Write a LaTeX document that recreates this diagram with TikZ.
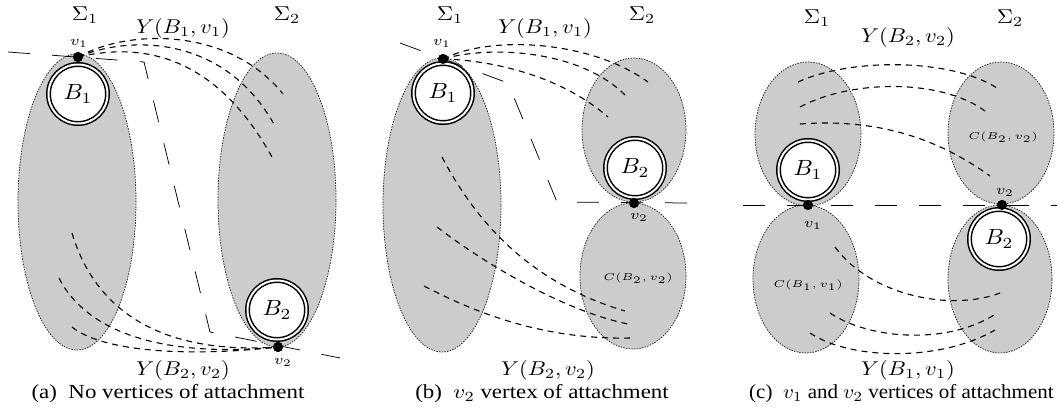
\documentclass[tikz,border=0pt]{standalone}
\usepackage{fontspec}
\newfontfamily\capfont{Liberation Serif}
\usetikzlibrary{shapes.geometric}
\newcommand\mtx[1]{\scalebox{2.25}[2.0]{$#1$}}
\newcommand\btx[1]{\scalebox{2.4}[2.2]{$#1$}}
\newcommand\vtx[1]{\scalebox{2.25}[2.0]{\scriptsize$#1$}}
\newcommand\ctx[1]{\scalebox{2.25}[2.0]{\tiny$#1$}}
\newcommand\captx[2][2.29]{\scalebox{#1}[2.0]{\capfont\fontsize{10}{12}\selectfont #2}}
\tikzset{
  region/.style={ellipse, draw=black!85, fill=gray!40, dash pattern=on 1.5pt off 1.2pt, line width=0.75pt, inner sep=0pt},
  blob/.style={circle, draw=black, double=white, double distance=2pt, line width=1.5pt, fill=white, minimum size=59pt, inner sep=0pt},
  attach/.style={circle, fill=black, inner sep=0pt, minimum size=10pt},
  ycurve/.style={dash pattern=on 6pt off 5pt, line width=1.1pt},
  sepline/.style={dash pattern=on 22pt off 22pt, line width=0.75pt},
  lbl/.style={inner sep=0pt}
}
\begin{document}
\begin{tikzpicture}[x=1pt,y=-1pt]
\useasboundingbox (0,0) rectangle (1057,418);
% ---------------- (a) ----------------
\node[region, minimum width=118pt, minimum height=296pt] (La) at (77,202) {};
\node[region, minimum width=118pt, minimum height=294pt] (Ra) at (277,200) {};
\node[attach] (v1a) at (78,57) {};
\node[attach] (v2a) at (278,347) {};
\coordinate (a1) at (283,94);
\coordinate (a2) at (275,126);
\coordinate (a3) at (272,157);
\coordinate (a4) at (72,233);
\coordinate (a5) at (59,278);
\coordinate (a6) at (72,327);
\draw[ycurve] (v1a.center) .. controls (130,28) and (230,28) .. (a1);
\draw[ycurve] (v1a.center) .. controls (130,35) and (225,35) .. (a2);
\draw[ycurve] (v1a.center) .. controls (130,45) and (210,45) .. (a3);
\draw[ycurve] (a4) .. controls (95,310) and (160,355) .. (v2a.center);
\draw[ycurve] (a5) .. controls (80,320) and (140,360) .. (v2a.center);
\draw[ycurve] (a6) .. controls (100,350) and (180,358) .. (v2a.center);
\coordinate (sa0) at (8,52);
\coordinate (sa1) at (144,62);
\coordinate (sa2) at (210,332);
\coordinate (sa3) at (340,358);
\draw[sepline] (sa0) -- (sa1) -- (sa2) -- (sa3);
\node[blob] (B1a) at (78,94) {\btx{B_1}};
\node[blob] (B2a) at (277,310) {\btx{B_2}};
\node[attach] at (v1a) {};
\node[attach] at (v2a) {};
\node[lbl] (s1a) at (85,15) {\mtx{\Sigma_1}};
\node[lbl] (s2a) at (287,15) {\mtx{\Sigma_2}};
\node[lbl] (ya1) at (183,28) {\mtx{Y(B_1,v_1)}};
\node[lbl] (ya2) at (183,370) {\mtx{Y(B_2,v_2)}};
\node[lbl] (lv1a) at (79,43) {\vtx{v_1}};
\node[lbl] (lv2a) at (283,362) {\vtx{v_2}};
\node[lbl] (capa) at (168,394) {\captx{(a)\enspace No vertices of attachment}};
% ---------------- (b) ----------------
\node[region, minimum width=118pt, minimum height=294pt] (Lb) at (442,205) {};
\node[region, minimum width=104pt, minimum height=144pt] (RUb) at (634,130) {};
\node[region, minimum width=106pt, minimum height=146pt] (RLb) at (633,276) {};
\node[attach] (v1b) at (443,59) {};
\node[attach] (v2b) at (634,203) {};
\coordinate (b1) at (648,82);
\coordinate (b2) at (625,95);
\coordinate (b3) at (608,117);
\coordinate (b4) at (442,157);
\coordinate (b5) at (625,311);
\coordinate (b6) at (437,227);
\coordinate (b7) at (628,324);
\coordinate (b8) at (424,286);
\coordinate (b9) at (630,338);
\draw[ycurve] (v1b.center) .. controls (490,35) and (590,40) .. (b1);
\draw[ycurve] (v1b.center) .. controls (490,45) and (580,50) .. (b2);
\draw[ycurve] (v1b.center) .. controls (490,60) and (560,75) .. (b3);
\draw[ycurve] (b4) .. controls (470,210) and (520,280) .. (b5);
\draw[ycurve] (b6) .. controls (480,260) and (560,310) .. (b7);
\draw[ycurve] (b8) .. controls (470,310) and (540,340) .. (b9);
\coordinate (sb0) at (400,43);
\coordinate (sb1) at (508,83);
\coordinate (sb2) at (557,202);
\coordinate (sb3) at (690,203);
\draw[sepline] (sb0) -- (sb1) -- (sb2) -- (sb3);
\node[blob] (B1b) at (443,93) {\btx{B_1}};
\node[blob] (B2b) at (635,168) {\btx{B_2}};
\node[attach] at (v1b) {};
\node[attach] at (v2b) {};
\node[lbl] (s1b) at (450,15) {\mtx{\Sigma_1}};
\node[lbl] (s2b) at (642,15) {\mtx{\Sigma_2}};
\node[lbl] (yb1) at (545,28) {\mtx{Y(B_1,v_1)}};
\node[lbl] (yb2) at (548,370) {\mtx{Y(B_2,v_2)}};
\node[lbl] (lv1b) at (442,43) {\vtx{v_1}};
\node[lbl] (lv2b) at (639,217) {\vtx{v_2}};
\node[lbl] (cb) at (638,278) {\ctx{C(B_2,v_2)}};
\node[lbl] (capb) at (542,394) {\captx{(b)\enspace $v_2$ vertex of attachment}};
% ---------------- (c) ----------------
\node[region, minimum width=106pt, minimum height=144pt] (LUc) at (808,134) {};
\node[region, minimum width=106pt, minimum height=148pt] (LLc) at (806,279) {};
\node[region, minimum width=106pt, minimum height=142pt] (RUc) at (1001,133) {};
\node[region, minimum width=104pt, minimum height=148pt] (RLc) at (1000,279) {};
\node[attach] (v1c) at (808,205) {};
\node[attach] (v2c) at (1002,205) {};
\coordinate (c1) at (798,82);
\coordinate (c2) at (997,88);
\coordinate (c3) at (800,107);
\coordinate (c4) at (985,111);
\coordinate (c5) at (800,124);
\coordinate (c6) at (990,176);
\coordinate (c7) at (835,247);
\coordinate (c8) at (1000,293);
\coordinate (c9) at (830,313);
\coordinate (c10) at (997,313);
\coordinate (c11) at (810,333);
\coordinate (c12) at (995,330);
\draw[ycurve] (c1) .. controls (850,58) and (950,58) .. (c2);
\draw[ycurve] (c3) .. controls (850,80) and (940,78) .. (c4);
\draw[ycurve] (c5) .. controls (880,118) and (940,140) .. (c6);
\draw[ycurve] (c7) .. controls (870,295) and (950,312) .. (c8);
\draw[ycurve] (c9) .. controls (870,340) and (950,345) .. (c10);
\draw[ycurve] (c11) .. controls (850,360) and (940,362) .. (c12);
\coordinate (sc0) at (743,205);
\coordinate (sc1) at (1070,205);
\draw[sepline] (sc0) -- (sc1);
\node[blob] (B1c) at (808,170) {\btx{B_1}};
\node[blob] (B2c) at (999,239) {\btx{B_2}};
\node[attach] at (v1c) {};
\node[attach] at (v2c) {};
\node[lbl] (s1c) at (817,18) {\mtx{\Sigma_1}};
\node[lbl] (s2c) at (1010,18) {\mtx{\Sigma_2}};
\node[lbl] (yc2) at (908,37) {\mtx{Y(B_2,v_2)}};
\node[lbl] (yc1) at (908,370) {\mtx{Y(B_1,v_1)}};
\node[lbl] (lv1c) at (813,225) {\vtx{v_1}};
\node[lbl] (lv2c) at (1005,192) {\vtx{v_2}};
\node[lbl] (cc1) at (808,285) {\ctx{C(B_1,v_1)}};
\node[lbl] (cc2) at (1003,137) {\ctx{C(B_2,v_2)}};
\node[lbl, anchor=west] (capc) at (749,394) {\captx[2.1]{(c)\enspace $v_1$ and $v_2$ vertices of attachment}};
\end{tikzpicture}
\end{document}
